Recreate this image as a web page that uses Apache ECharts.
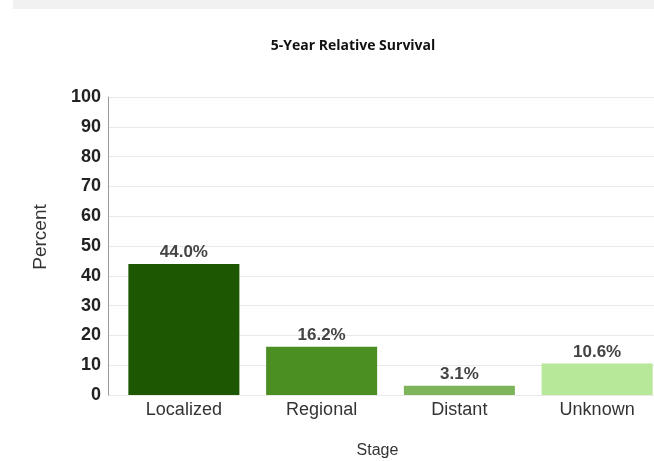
<!DOCTYPE html>
<html>
<head>
<meta charset="utf-8">
<style>
  html, body { margin: 0; padding: 0; background: #fff; }
  #chart { width: 654px; height: 461px; }
</style>
<script src="https://cdn.jsdelivr.net/npm/echarts@6/dist/echarts.min.js"></script>
</head>
<body>
<div id="chart"></div>
<script>
// 5-year relative survival by stage at diagnosis
const stages = ['Localized', 'Regional', 'Distant', 'Unknown'];
const survival = [44.0, 16.2, 3.1, 10.6];
const barColors = ['#1e5702', '#4b8f22', '#7eb45a', '#b7e799'];
const percentTicks = { min: 0, max: 100, interval: 10 };

const chart = echarts.init(document.getElementById('chart'), null, { renderer: 'canvas' });

const plotTop = 97;
const plotBottom = 66;

chart.setOption({
  animation: false,
  backgroundColor: '#fff',
  graphic: [
    // light header band along the top edge
    { type: 'rect', left: 13, top: 0, shape: { width: 660, height: 9 }, style: { fill: '#f1f1f1' }, silent: true }
  ],
  title: {
    text: '5-Year Relative Survival',
    left: 348,
    textAlign: 'center',
    top: 34,
    textStyle: { fontFamily: 'Open Sans', fontWeight: 'bold', fontSize: 14, color: '#111' }
  },
  grid: [
    // background grid carrying the horizontal gridlines from the axis line
    { left: 108, right: 0, top: plotTop, bottom: plotBottom, outerBoundsMode: 'none' },
    // bar grid, running a little past the right edge of the page
    { left: 115, right: -12, top: plotTop, bottom: plotBottom, outerBoundsMode: 'none' }
  ],
  xAxis: [
    { gridIndex: 0, type: 'value', show: false, min: 0, max: 1 },
    {
      gridIndex: 1,
      type: 'category',
      data: stages,
      axisLine: { show: false },
      axisTick: { show: false },
      axisLabel: { margin: 6, fontFamily: 'Liberation Sans', fontSize: 18, color: '#333' },
      name: 'Stage',
      nameLocation: 'middle',
      nameGap: 48,
      nameTextStyle: { fontFamily: 'Liberation Sans', fontSize: 16, color: '#333', padding: [0, 26, 0, 0] }
    }
  ],
  yAxis: [
    {
      gridIndex: 0,
      type: 'value',
      min: percentTicks.min, max: percentTicks.max, interval: percentTicks.interval,
      axisLine: { show: true, lineStyle: { color: '#9a9a9a', width: 1 } },
      axisTick: { show: false },
      axisLabel: { margin: 7, fontFamily: 'Liberation Sans', fontWeight: 'bold', fontSize: 18, color: '#222' },
      splitLine: { show: true, lineStyle: { color: '#e9e9e9', width: 1 } },
      name: 'Percent',
      nameLocation: 'middle',
      nameGap: 58,
      nameRotate: 90,
      nameTextStyle: { fontFamily: 'Liberation Sans', fontSize: 19, color: '#333', padding: [0, 0, 0, 18] }
    },
    {
      gridIndex: 1,
      type: 'value',
      min: percentTicks.min, max: percentTicks.max, interval: percentTicks.interval,
      show: false,
      splitLine: { show: false }
    }
  ],
  series: [{
    type: 'bar',
    xAxisIndex: 1,
    yAxisIndex: 1,
    data: survival.map((v, i) => ({ value: v, itemStyle: { color: barColors[i] } })),
    barCategoryGap: '19.4%',
    label: {
      show: true,
      position: 'top',
      distance: 3,
      formatter: p => p.value.toFixed(1) + '%',
      fontFamily: 'Liberation Sans',
      fontWeight: 'bold',
      fontSize: 17,
      color: '#444'
    }
  }]
});
</script>
</body>
</html>
